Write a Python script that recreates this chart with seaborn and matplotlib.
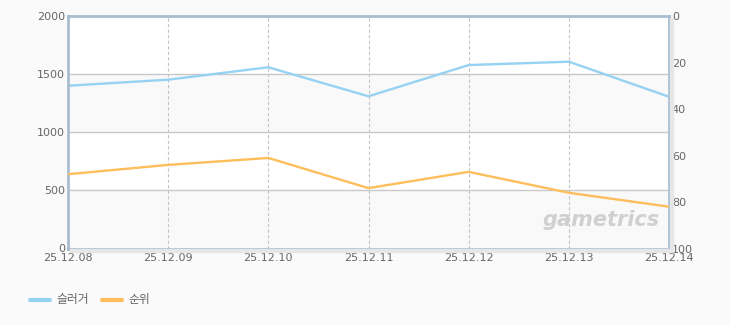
import matplotlib
matplotlib.use("Agg")
import matplotlib.pyplot as plt
import seaborn as sns
import pandas as pd
from matplotlib.patches import Rectangle

dates = ["25.12.08", "25.12.09", "25.12.10", "25.12.11", "25.12.12", "25.12.13", "25.12.14"]
slugger = [1402, 1454, 1561, 1311, 1580, 1609, 1307]
rank = [68, 64, 61, 74, 67, 76, 82]
left_ticks = [0, 500, 1000, 1500, 2000]
right_ticks = [0, 20, 40, 60, 80, 100]
series_names = ["슬러거", "순위"]

BLUE = "#96d2f2"
ORANGE = "#ffbe5c"
FRAME = "#a9bdd1"
TEXT = "#666666"

sns.set_theme(style="white")
plt.rcParams["font.family"] = ["DejaVu Sans", "Noto Sans CJK KR"]

fig = plt.figure(figsize=(7.3, 3.25), dpi=100)
fig.patch.set_facecolor("#fafafa")
ax = fig.add_axes([68/730, 1-248.5/325, (669-68)/730, (248.5-16.3)/325])
ax.set_facecolor("white")

df = pd.DataFrame({"x": range(len(dates)), "slugger": slugger, "rank": rank})

for i, lo in enumerate(left_ticks[:-1]):
    if i % 2 == 0:
        ax.axhspan(lo, lo + 500, color="#f9f9f9", zorder=0, lw=0)

sns.lineplot(data=df, x="x", y="slugger", ax=ax, color=BLUE, lw=1.7, zorder=3)
ax.set_xlim(0, len(dates) - 1)
ax.set_ylim(0, 2000)
ax.set_yticks(left_ticks)
ax.set_xticks(range(len(dates)))
ax.set_xticklabels(dates)
ax.set_xlabel("")
ax.set_ylabel("")
for y in left_ticks[1:-1]:
    ax.axhline(y, color="#c8c8c8", lw=1, zorder=1)
for x in range(1, len(dates) - 1):
    ax.axvline(x, color="#c4c4c4", lw=0.8, ls=(0, (3, 2)), zorder=1)
ax.tick_params(axis="both", length=0, labelsize=8, colors=TEXT, pad=2)
ax.tick_params(axis="x", pad=3)
for s in ax.spines.values():
    s.set_color(FRAME)
    s.set_linewidth(2)
    s.set_zorder(5)

ax2 = ax.twinx()
sns.lineplot(data=df, x="x", y="rank", ax=ax2, color=ORANGE, lw=1.7, zorder=3)
ax2.set_ylim(100, 0)
ax2.set_yticks(right_ticks)
ax2.set_yticklabels([str(v) for v in right_ticks], fontsize=8, color=TEXT)
ax2.set_ylabel("")
ax2.tick_params(axis="y", length=0, pad=2)
for s in ax2.spines.values():
    s.set_visible(False)

shadow = Rectangle((670/730, 1-250/325), 3/730, (250-18)/325, transform=fig.transFigure,
                   color="#e6e6e6", zorder=0)
fig.patches.append(shadow)
shadow2 = Rectangle((70/730, 1-252/325), 603/730, 3/325, transform=fig.transFigure,
                    color="#e6e6e6", zorder=0)
fig.patches.append(shadow2)

ax.text(0.985, 0.08, "gametrics", transform=ax.transAxes, ha="right", va="bottom",
        fontsize=15, fontweight="bold", style="italic", color="#d0d0d0", zorder=2)

fig.lines.append(plt.Line2D([30/730, 50/730], [1-300/325]*2, transform=fig.transFigure, color=BLUE, lw=3))
fig.text(56/730, 1-300/325, series_names[0], va="center", ha="left", fontsize=8.5, color=TEXT,
         family=["Noto Sans CJK KR", "DejaVu Sans"])
fig.lines.append(plt.Line2D([102/730, 122/730], [1-300/325]*2, transform=fig.transFigure, color=ORANGE, lw=3))
fig.text(128/730, 1-300/325, series_names[1], va="center", ha="left", fontsize=8.5, color=TEXT,
         family=["Noto Sans CJK KR", "DejaVu Sans"])

fig.savefig("out.png", dpi=100, facecolor=fig.get_facecolor())
